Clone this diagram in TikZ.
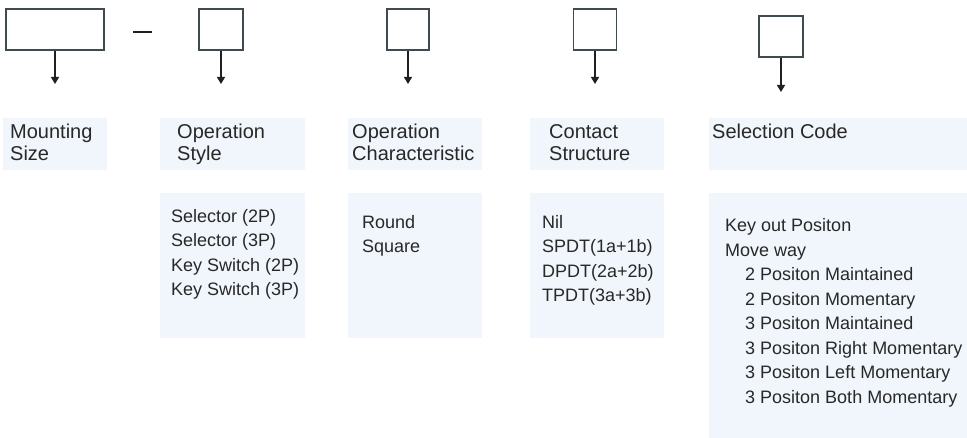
\documentclass[tikz,border=0pt]{standalone}
\usepackage{fontspec}
\setmainfont{Liberation Sans}
\usetikzlibrary{arrows.meta}
\definecolor{boxline}{RGB}{64,75,80}
\definecolor{arrowc}{RGB}{35,31,32}
\definecolor{panel}{RGB}{240,246,252}
\definecolor{txt}{RGB}{40,40,40}
\tikzset{
  codebox/.style={draw=boxline, line width=1.6pt, minimum height=41pt, inner sep=0pt},
  down/.style={draw=arrowc, line width=1.3pt, -{Triangle[width=8pt,length=7pt]}},
  panelbox/.style={fill=panel, draw=none, inner sep=0pt, anchor=north west},
  head/.style={anchor=base west, inner sep=0pt, align=left, text=txt, font={\fontsize{20}{21.5}\selectfont}},
  item/.style={anchor=base west, inner sep=0pt, align=left, text=txt, font={\fontsize{18}{24.5}\selectfont}}
}
\begin{document}
\begin{tikzpicture}[x=1pt,y=-1pt]
\path[use as bounding box, fill=white] (0,0) rectangle (967,438);

% panels
\node[panelbox, minimum width=104pt, minimum height=52pt] (f1) at (3,118) {};
\node[panelbox, minimum width=145pt, minimum height=52pt] (f2) at (160,118) {};
\node[panelbox, minimum width=134pt, minimum height=52pt] (f3) at (348,118) {};
\node[panelbox, minimum width=134pt, minimum height=52pt] (f4) at (530,118) {};
\node[panelbox, minimum width=258pt, minimum height=52pt] (f5) at (709,118) {};
\node[panelbox, minimum width=145pt, minimum height=145pt] (g2) at (160,193) {};
\node[panelbox, minimum width=134pt, minimum height=145pt] (g3) at (348,193) {};
\node[panelbox, minimum width=134pt, minimum height=145pt] (g4) at (530,193) {};
\node[panelbox, minimum width=258pt, minimum height=245pt] (g5) at (709,193) {};

% code boxes
\node[codebox, minimum width=98pt] (b1) at (55,29.5) {};
\node[codebox, minimum width=44pt] (b2) at (221,29.5) {};
\node[codebox, minimum width=42pt] (b3) at (408,29.5) {};
\node[codebox, minimum width=43pt] (b4) at (595,29.5) {};
\node[codebox, minimum width=44pt] (b5) at (781,36.5) {};

% dash
\coordinate (d1) at (133,32);
\coordinate (d2) at (152,32);
\draw[arrowc, line width=1.8pt] (d1) -- (d2);

% arrows
\coordinate (a1) at (55,84);
\coordinate (a2) at (221,84);
\coordinate (a3) at (408,84);
\coordinate (a4) at (595,84);
\coordinate (a5) at (781,92);
\draw[down] (b1.south) -- (a1);
\draw[down] (b2.south) -- (a2);
\draw[down] (b3.south) -- (a3);
\draw[down] (b4.south) -- (a4);
\draw[down] (b5.south) -- (a5);

% headings (base anchor = baseline of last line)
\node[head] (t1) at (10,160.5) {Mounting\\Size};
\node[head] (t2) at (177,160.5) {Operation\\Style};
\node[head] (t3) at (352,160.5) {Operation\\Characteristic};
\node[head] (t4) at (549,160.5) {Contact\\Structure};
\node[head] (t5) at (712,139) {Selection Code};

% lists
\node[item] (l2) at (171,296) {Selector (2P)\\Selector (3P)\\Key Switch (2P)\\Key Switch (3P)};
\node[item] (l3) at (362,253) {Round\\Square};
\node[item] (l4) at (542,302) {Nil\\SPDT(1a+1b)\\DPDT(2a+2b)\\TPDT(3a+3b)};
\node[item] (l5) at (725,403) {Key out Positon\\Move way\\
\hspace{20pt}2 Positon Maintained\\
\hspace{20pt}2 Positon Momentary\\
\hspace{20pt}3 Positon Maintained\\
\hspace{20pt}3 Positon Right Momentary\\
\hspace{20pt}3 Positon Left Momentary\\
\hspace{20pt}3 Positon Both Momentary};
\end{tikzpicture}
\end{document}
